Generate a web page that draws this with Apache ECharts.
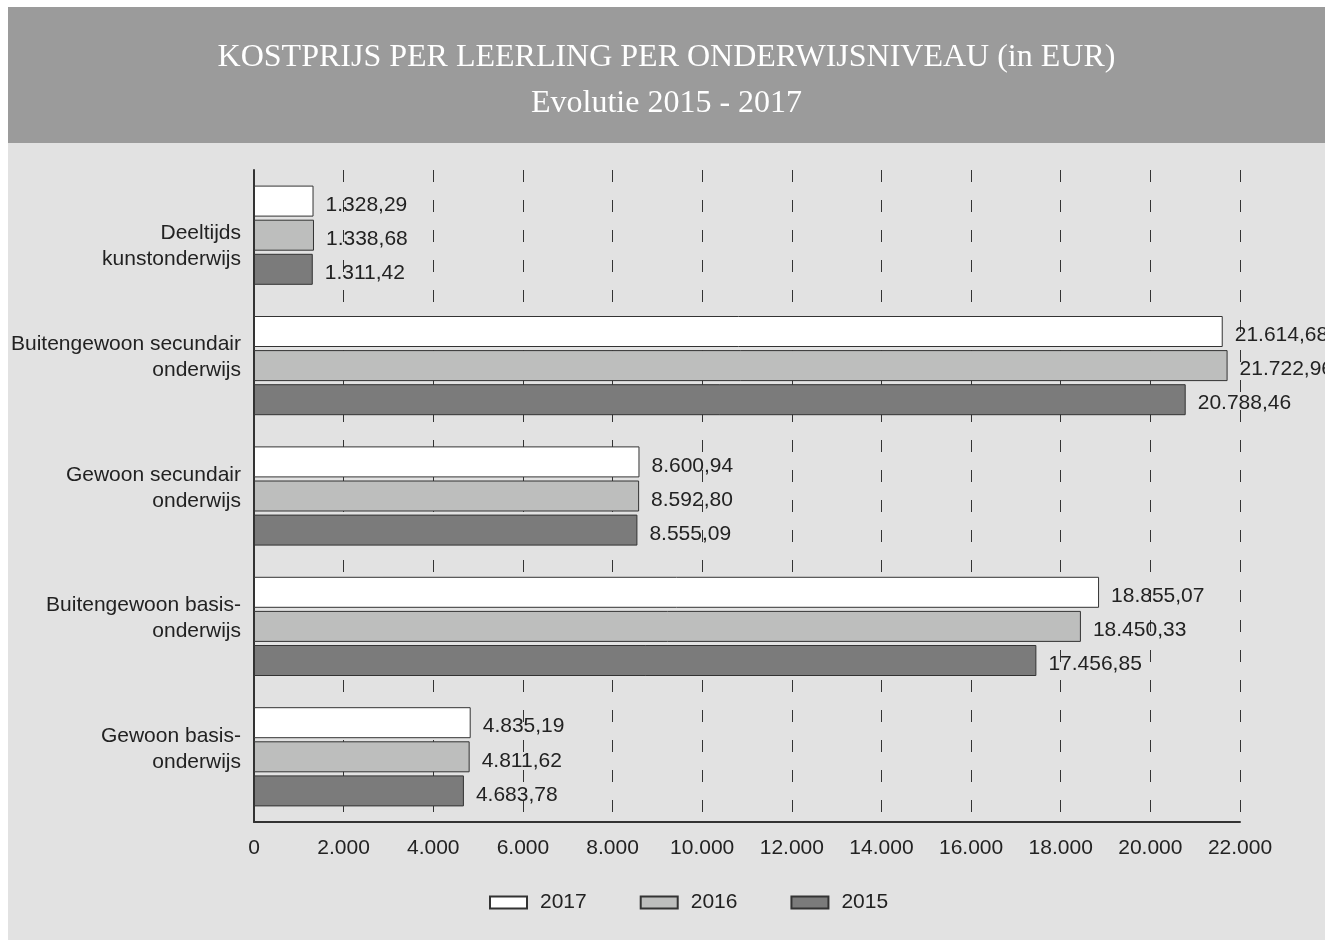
<!DOCTYPE html>
<html>
<head>
<meta charset="utf-8">
<script src="https://cdn.jsdelivr.net/npm/echarts@6/dist/echarts.min.js"></script>
<style>
  html, body { margin: 0; padding: 0; background: #ffffff; }
  #chart { position: absolute; left: 8px; top: 7px; width: 1317px; height: 933px; }
</style>
</head>
<body>
<div id="chart"></div>
<script>
// categories listed bottom -> top (ECharts category y axis starts at the bottom)
const categories = [
  'Gewoon basis-\nonderwijs',
  'Buitengewoon basis-\nonderwijs',
  'Gewoon secundair\nonderwijs',
  'Buitengewoon secundair\nonderwijs',
  'Deeltijds\nkunstonderwijs',
];
const years = ['2017', '2016', '2015'];
const values2017 = [4835.19, 18855.07, 8600.94, 21614.68, 1328.29];
const values2016 = [4811.62, 18450.33, 8592.80, 21722.96, 1338.68];
const values2015 = [4683.78, 17456.85, 8555.09, 20788.46, 1311.42];

const fmtNl = (v, dec) => {
  const parts = v.toFixed(dec).split('.');
  const int = parts[0].replace(/\B(?=(\d{3})+(?!\d))/g, '.');
  return parts[1] ? int + ',' + parts[1] : int;
};

const font = 'Liberation Sans, Arial, Helvetica, sans-serif';
const barStyle = (color) => ({ color, borderColor: '#333333', borderWidth: 1 });

const makeSeries = (name, data, color) => ({
  name,
  type: 'bar',
  data,
  barWidth: 31,
  barGap: '10%',
  itemStyle: barStyle(color),
  label: {
    show: true,
    position: 'right',
    distance: 12,
    offset: [0, 4],
    color: '#222222',
    fontFamily: font,
    fontSize: 21,
    formatter: (p) => fmtNl(p.value, 2),
  },
});

const chart = echarts.init(document.getElementById('chart'), null, { renderer: 'canvas' });
chart.setOption({
  backgroundColor: '#e2e2e2',
  animation: false,
  graphic: [{
    type: 'rect',
    left: 0,
    top: 0,
    shape: { width: 1317, height: 136 },
    style: { fill: '#9b9b9b' },
    z: -1,
  }],
  title: {
    text: 'KOSTPRIJS PER LEERLING PER ONDERWIJSNIVEAU (in EUR)\nEvolutie 2015 - 2017',
    left: 'center',
    top: 23,
    textStyle: {
      color: '#ffffff',
      fontFamily: 'Liberation Serif, Times New Roman, serif',
      fontWeight: 'normal',
      fontSize: 32,
      lineHeight: 46,
    },
  },
  legend: {
    data: years,
    icon: 'rect',
    bottom: 22,
    left: 476,
    itemWidth: 37,
    itemHeight: 12,
    itemGap: 53,
    textStyle: { fontFamily: font, fontSize: 21, color: '#222222', padding: [0, 0, 0, 8] },
  },
  grid: { left: 245, right: 85, top: 163, bottom: 118 },
  xAxis: {
    type: 'value',
    min: 0,
    max: 22000,
    interval: 2000,
    axisLine: { show: true, lineStyle: { color: '#333333', width: 2 } },
    axisTick: { show: false },
    axisLabel: {
      margin: 16,
      color: '#222222',
      fontFamily: font,
      fontSize: 21,
      formatter: (v) => fmtNl(v, 0),
    },
    splitLine: { show: true, lineStyle: { color: '#333333', width: 1, type: [12, 18] } },
  },
  yAxis: {
    type: 'category',
    data: categories,
    axisLine: { show: true, lineStyle: { color: '#333333', width: 2 } },
    axisTick: { show: false },
    axisLabel: {
      margin: 13,
      color: '#222222',
      fontFamily: font,
      fontSize: 21,
      lineHeight: 26,
      align: 'right',
      padding: [0, 0, 16, 0],
      // the top label sits lower than the others in the original
      formatter: (v, i) => i === categories.length - 1
        ? '{gap| }\n{n|' + v.split('\n').join('}\n{n|') + '}'
        : v,
      rich: {
        gap: { lineHeight: 38, fontSize: 10 },
        n: { fontFamily: font, fontSize: 21, lineHeight: 26, color: '#222222', align: 'right' },
      },
    },
  },
  series: [
    makeSeries('2017', values2017, '#ffffff'),
    makeSeries('2016', values2016, '#bdbebd'),
    makeSeries('2015', values2015, '#7b7b7b'),
  ],
});
</script>
</body>
</html>
